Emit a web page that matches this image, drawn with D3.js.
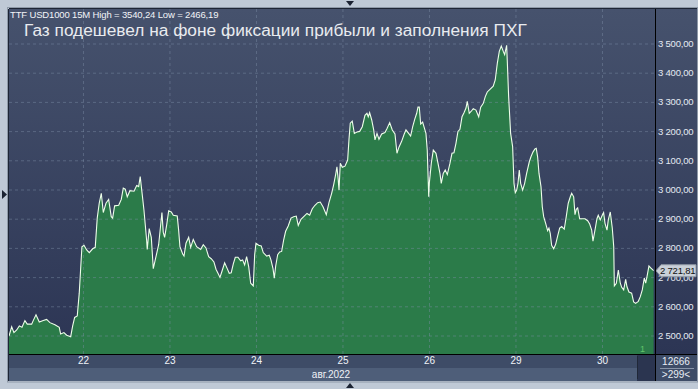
<!DOCTYPE html>
<html>
<head>
<meta charset="utf-8">
<script src="https://cdn.jsdelivr.net/npm/d3@7"></script>
<style>
  body { margin: 0; background: #bfc9d6; }
  svg { display: block; font-family: "Liberation Sans", Arial, sans-serif; }
</style>
</head>
<body>
<svg id="chart"></svg>
<script>

// textos del grafico
var titulo   = "TTF USD1000 15M High = 3540,24 Low = 2466,19";
var titular  = "Газ подешевел на фоне фиксации прибыли и заполнения ПХГ";
var mes      = "авг.2022";

// etiquetas de los dias (sesiones de negociacion, sin fin de semana)
var dias     = ["22", "23", "24", "25", "26", "29", "30"];

// niveles del eje de y
var niveles  = [2500, 2600, 2700, 2800, 2900, 3000, 3100, 3200, 3300, 3400, 3500];

// posicion en dias de sesion (0 = inicio del 22) y precio de cierre
var posicion = [-0.855,-0.824,-0.798,-0.766,-0.736,-0.705,-0.671,-0.644,-0.593,-0.575,-0.543,-0.505,-0.459,-0.420,-0.382,-0.324,-0.274,-0.258,-0.220,-0.188,
  -0.142,-0.119,-0.096,-0.066,-0.043,-0.012,0.012,0.043,0.073,0.112,0.142,0.165,0.188,0.212,0.235,0.266,0.297,0.327,0.343,0.366,
  0.413,0.443,0.466,0.489,0.512,0.543,0.590,0.621,0.644,0.662,0.682,0.705,0.736,0.743,0.766,0.790,0.813,0.844,0.875,0.913,
  0.928,0.944,0.968,0.991,1.021,1.044,1.090,1.106,1.121,1.153,1.168,1.191,1.222,1.245,1.275,1.314,1.361,1.391,1.422,1.453,
  1.483,1.514,1.538,1.561,1.584,1.607,1.638,1.668,1.691,1.714,1.738,1.761,1.792,1.823,1.846,1.869,1.892,1.916,1.939,1.969,
  1.985,2.000,2.031,2.061,2.084,2.124,2.154,2.173,2.197,2.212,2.228,2.251,2.274,2.297,2.320,2.343,2.373,2.405,2.436,2.466,
  2.489,2.520,2.558,2.590,2.621,2.651,2.682,2.713,2.743,2.775,2.813,2.844,2.875,2.898,2.921,2.936,2.951,2.960,2.975,2.998,
  3.029,3.060,3.075,3.090,3.113,3.137,3.168,3.199,3.229,3.260,3.283,3.298,3.314,3.338,3.361,3.376,3.399,3.422,3.453,3.491,
  3.514,3.546,3.576,3.607,3.630,3.653,3.684,3.714,3.734,3.765,3.788,3.812,3.835,3.858,3.873,3.888,3.904,3.927,3.942,3.965,
  3.980,3.997,4.004,4.027,4.050,4.081,4.104,4.127,4.142,4.165,4.188,4.212,4.243,4.266,4.289,4.312,4.335,4.358,4.382,4.405,
  4.428,4.443,4.466,4.489,4.512,4.543,4.575,4.598,4.628,4.651,4.674,4.705,4.743,4.766,4.790,4.813,4.836,4.859,4.875,4.898,
  4.905,4.921,4.944,4.967,4.983,4.998,5.014,5.029,5.044,5.060,5.083,5.106,5.129,5.160,5.179,5.202,5.225,5.240,5.256,5.272,
  5.295,5.310,5.326,5.349,5.372,5.387,5.402,5.418,5.442,5.465,5.488,5.511,5.534,5.564,5.587,5.610,5.634,5.650,5.673,5.688,
  5.703,5.719,5.742,5.772,5.803,5.835,5.858,5.881,5.896,5.919,5.942,5.957,5.980,6.003,6.019,6.035,6.058,6.073,6.096,6.119,
  6.136,6.143,6.166,6.189,6.212,6.228,6.251,6.274,6.289,6.312,6.343,6.366,6.389,6.420,6.443,6.466,6.489,6.505,6.520,6.543,
  6.566,6.597];

var precio = [2498,2530,2510,2519,2533,2528,2551,2539,2539,2551,2571,2546,2551,2555,2544,2537,2528,2505,2510,2501,
  2496,2533,2562,2567,2645,2804,2809,2793,2784,2797,2802,2902,2953,2987,2921,2953,2966,2907,2902,2944,
  2946,2966,3005,3001,2975,2996,2994,3014,3010,3044,2991,2930,2827,2795,2866,2836,2729,2770,2811,2921,
  2854,2836,2879,2927,2923,2912,2909,2861,2804,2779,2772,2816,2836,2802,2829,2804,2795,2811,2800,2770,
  2763,2752,2727,2713,2699,2720,2749,2729,2713,2715,2745,2768,2768,2756,2759,2742,2770,2736,2679,2670,
  2777,2816,2809,2807,2784,2772,2775,2759,2729,2696,2738,2777,2786,2788,2827,2857,2875,2902,2907,2909,
  2877,2898,2909,2918,2912,2934,2946,2955,2957,2941,2914,2955,2987,3016,3051,3078,3033,2998,3090,3076,
  3080,3101,3170,3227,3234,3192,3197,3199,3215,3254,3261,3249,3263,3238,3204,3170,3192,3172,3190,3195,
  3208,3229,3204,3190,3124,3145,3165,3190,3204,3192,3183,3215,3240,3261,3282,3282,3224,3231,3215,3192,
  3135,2975,3021,3090,3135,3124,3090,3055,3021,3055,3067,3051,3090,3124,3126,3158,3199,3206,3249,3263,
  3279,3302,3261,3268,3277,3272,3249,3282,3295,3318,3334,3343,3354,3375,3432,3473,3491,3473,3462,3494,
  3443,3318,3192,3147,3021,2989,2998,3021,3067,3021,2998,3021,3055,3095,3112,3128,3139,3141,3112,3055,
  3010,2941,2907,2884,2859,2868,2850,2809,2797,2813,2841,2868,2873,2864,2907,2953,2975,2987,2975,2914,
  2932,2937,2900,2900,2900,2893,2882,2861,2823,2861,2900,2912,2896,2912,2921,2884,2861,2896,2923,2868,
  2804,2670,2679,2724,2679,2665,2656,2692,2667,2649,2645,2615,2610,2617,2633,2656,2697,2679,2701,2738,
  2731,2721.81];

var ultimo = 2721.81;
var marcaBarra = "1";
var contador = "12666";
var rango = ">299<";

////////////////////////////////////////////////////////
// dimensiones
////////////////////////////////////////////////////////

var w = 698;
var h = 389;

var plotL = 9, plotR = 655, plotT = 9, plotB = 354;
var axisR = 697, axisB = 381;

var svg = d3.select("#chart").attr("width", w).attr("height", h);

var formato = d3.formatLocale({decimal: ",", thousands: " ", grouping: [3], currency: ["", ""]}).format(",.2f");

// escalas
var xScale = d3.scaleLinear()
               .domain([-0.855, 6.613])
               .range([plotL, plotR]);

var yScale = d3.scaleLinear()
               .domain([2500, 3500])
               .range([335.5, 43.5]);

var datos = posicion.map(function(p, i) { return {pos: p, precio: precio[i]}; });

// gradientes
var defs = svg.append("defs");
var grad = defs.append("linearGradient").attr("id", "fondo")
               .attr("x1", 0).attr("y1", 0).attr("x2", 0).attr("y2", 1);
grad.append("stop").attr("offset", "0%").attr("stop-color", "#46526d");
grad.append("stop").attr("offset", "100%").attr("stop-color", "#2c3554");

defs.append("clipPath").attr("id", "recorte")
    .append("rect").attr("x", plotL).attr("y", plotT)
    .attr("width", plotR - plotL).attr("height", plotB - plotT);

// marco exterior
svg.append("rect").attr("width", w).attr("height", h).attr("fill", "#bfc9d6");
svg.append("rect").attr("x", 7.5).attr("y", 7.5)
   .attr("width", axisR - 7).attr("height", axisB - 6.5)
   .attr("fill", "none").attr("stroke", "#8e99a8");

// fondo del grafico y del eje derecho
svg.append("rect").attr("x", plotL).attr("y", plotT)
   .attr("width", axisR - plotL).attr("height", plotB - plotT)
   .attr("fill", "url(#fondo)");

// area y linea
var area = d3.area()
             .x(function(d) { return xScale(d.pos); })
             .y0(plotB)
             .y1(function(d) { return yScale(d.precio); });

var line = d3.line()
             .x(function(d) { return xScale(d.pos); })
             .y(function(d) { return yScale(d.precio); });

var g = svg.append("g").attr("clip-path", "url(#recorte)");

g.append("path")
 .datum(datos)
 .attr("fill", "#2b7b49")
 .attr("d", area);

// cuadricula (encima del area)
var yGrid = d3.axisLeft(yScale).tickValues(niveles).tickSize(-(plotR - plotL)).tickFormat("");
g.append("g")
 .attr("transform", "translate(" + plotL + ",0)")
 .call(yGrid)
 .call(function(s) { s.select(".domain").remove(); })
 .selectAll("line")
 .attr("stroke", "#7f8da8").attr("stroke-opacity", 0.45).attr("stroke-dasharray", "3,3");

var xGrid = d3.axisBottom(xScale).tickValues(d3.range(dias.length)).tickSize(-(plotB - plotT)).tickFormat("");
g.append("g")
 .attr("transform", "translate(0," + plotB + ")")
 .call(xGrid)
 .call(function(s) { s.select(".domain").remove(); })
 .selectAll("line")
 .attr("stroke", "#7f8da8").attr("stroke-opacity", 0.45).attr("stroke-dasharray", "3,3");

g.append("path")
 .datum(datos)
 .attr("fill", "none")
 .attr("stroke", "#eefeea")
 .attr("stroke-width", 1.1)
 .attr("d", line);

// eje derecho (precios)
var yAxisRight = d3.axisRight(yScale).tickValues(niveles).tickSize(0).tickPadding(3).tickFormat(formato);
svg.append("g")
   .attr("transform", "translate(" + plotR + ",0)")
   .call(yAxisRight)
   .call(function(s) { s.select(".domain").remove(); })
   .selectAll("text")
   .attr("fill", "#e4eaf2")
   .style("font-size", "9.5px")
   .style("letter-spacing", "-0.2px");

// etiqueta del ultimo precio (tapa en parte el nivel 2 700)
var yUlt = yScale(ultimo);
svg.append("path")
   .attr("d", "M656," + yUlt + " L661," + (yUlt - 6) + " L696," + (yUlt - 6) + " L696," + (yUlt + 6) + " L661," + (yUlt + 6) + " Z")
   .attr("fill", "#c9d0d8").attr("stroke", "#8d96a3");
svg.append("text")
   .attr("x", 660).attr("y", yUlt + 3.5)
   .attr("fill", "#111").style("font-size", "9.5px")
   .style("letter-spacing", "-0.2px")
   .text(formato(ultimo));

// eje de abajo (fechas)
svg.append("rect").attr("x", plotL).attr("y", plotB).attr("width", axisR - plotL).attr("height", 14).attr("fill", "#3e4c67");
svg.append("rect").attr("x", plotL).attr("y", plotB + 14).attr("width", axisR - plotL).attr("height", axisB - plotB - 14).attr("fill", "#4e5e79");

var xAxisBottom = d3.axisBottom(xScale).tickValues(d3.range(dias.length)).tickSize(0).tickPadding(3)
                    .tickFormat(function(d) { return dias[d]; });
svg.append("g")
   .attr("transform", "translate(0," + plotB + ")")
   .call(xAxisBottom)
   .call(function(s) { s.select(".domain").remove(); })
   .selectAll("text")
   .attr("fill", "#f0f3f8")
   .style("font-size", "10px");

svg.append("text")
   .attr("x", 331).attr("y", 378)
   .attr("text-anchor", "middle")
   .attr("fill", "#eef2f7").style("font-size", "10px")
   .text(mes);

// barra de desplazamiento
svg.append("rect").attr("x", 637).attr("y", plotB + 1).attr("width", 18).attr("height", axisB - plotB - 1).attr("fill", "#2b3550");
svg.append("line").attr("x1", 637.5).attr("x2", 637.5).attr("y1", plotB + 2).attr("y2", axisB - 2).attr("stroke", "#202838");

// casilla inferior derecha
svg.append("rect").attr("x", plotR).attr("y", plotB).attr("width", axisR - plotR).attr("height", axisB - plotB).attr("fill", "#3e4c67");
svg.append("line").attr("x1", 660).attr("x2", 694).attr("y1", 368.5).attr("y2", 368.5).attr("stroke", "#8894a8");
svg.append("text").attr("x", 676).attr("y", 365).attr("text-anchor", "middle")
   .attr("fill", "#e8edf4").style("font-size", "10px").text(contador);
svg.append("text").attr("x", 676).attr("y", 378).attr("text-anchor", "middle")
   .attr("fill", "#e8edf4").style("font-size", "10px").text(rango);

// lineas negras de separacion
svg.append("line").attr("x1", plotR + 0.5).attr("x2", plotR + 0.5).attr("y1", plotT).attr("y2", axisB).attr("stroke", "#000");
svg.append("line").attr("x1", plotL).attr("x2", axisR).attr("y1", plotB + 0.5).attr("y2", plotB + 0.5).attr("stroke", "#000");
svg.append("line").attr("x1", 8.5).attr("x2", 8.5).attr("y1", plotT).attr("y2", axisB).attr("stroke", "#1d2535");
svg.append("line").attr("x1", plotL).attr("x2", axisR).attr("y1", 8.5).attr("y2", 8.5).attr("stroke", "#1d2535");

// marca de barra
svg.append("text").attr("x", 640).attr("y", 352)
   .attr("fill", "#62c46a").style("font-size", "9px").text(marcaBarra);

// titulos
svg.append("text").attr("x", 10).attr("y", 18)
   .attr("fill", "#f2f4f8").style("font-size", "9.5px")
   .style("letter-spacing", "-0.15px")
   .text(titulo);

svg.append("text").attr("x", 24).attr("y", 36)
   .attr("fill", "#e9ebef").style("font-size", "17.3px")
   .text(titular);

// triangulos del marco
svg.append("path").attr("d", "M346,1 L354,1 L350,6 Z").attr("fill", "#1b2232");
svg.append("path").attr("d", "M2,190 L7,194.5 L2,199 Z").attr("fill", "#1b2232");
svg.append("path").attr("d", "M346,388 L354,388 L350,383 Z").attr("fill", "#1b2232");

</script>
</body>
</html>
